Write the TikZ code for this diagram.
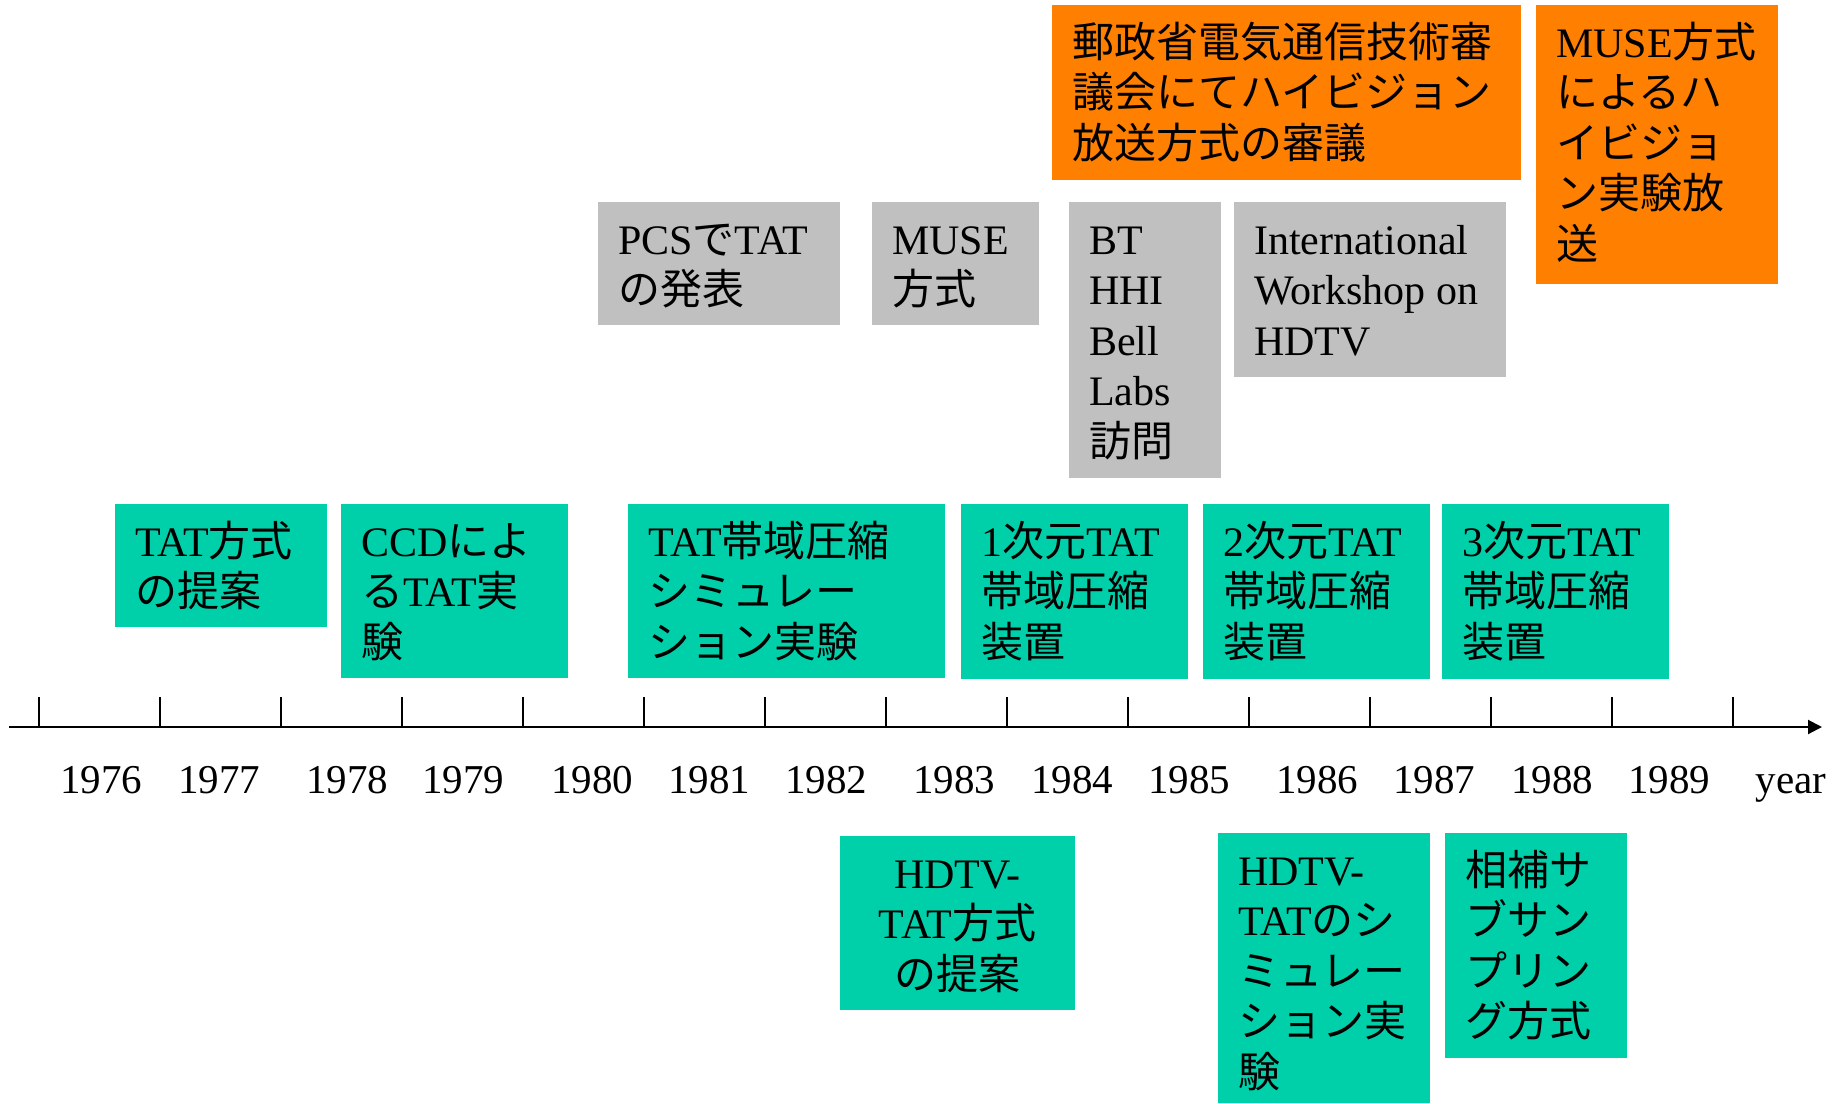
\documentclass[tikz,border=0pt]{standalone}
\usepackage{fontspec}
\setmainfont{Liberation Serif}
\newfontfamily\jp{Noto Sans CJK JP}
\usetikzlibrary{arrows.meta}
\definecolor{tealbox}{RGB}{0,208,170}
\definecolor{orangebox}{RGB}{255,128,0}
\definecolor{graybox}{RGB}{192,192,192}
\newcommand\J[1]{{\jp #1}}
\newcommand\bx[3]{\parbox[t][#2pt][t]{#1pt}{\raggedright\leftskip=20pt\relax\rule{0pt}{52pt}#3}}
\newcommand\bxc[3]{\parbox[t][#2pt][t]{#1pt}{\centering\rule{0pt}{52pt}#3}}
\begin{document}
\begin{tikzpicture}[x=1pt,y=-1pt,
  evt/.style={anchor=north west, inner sep=0pt, outer sep=0pt, fill=#1, font=\fontsize{42pt}{50.5pt}\selectfont},
  yr/.style={anchor=base, inner sep=0pt, font=\fontsize{41pt}{48pt}\selectfont},
  axisline/.style={line width=2pt, -{Triangle[length=14pt,width=14pt]}},
  tickline/.style={line width=1.3pt}]
\useasboundingbox (0,0) rectangle (1847,1103);
% teal boxes above axis
\node[evt=tealbox] (tatp) at (115,504) {\bx{212}{123}{TAT\J{方式}\\\J{の提案}}};
\node[evt=tealbox] (ccd) at (341,504) {\bx{227}{174}{CCD\J{によ}\\\J{る}TAT\J{実}\\\J{験}}};
\node[evt=tealbox] (sim) at (628,504) {\bx{317}{174}{TAT\J{帯域圧縮}\\\J{シミュレー}\\\J{ション実験}}};
\node[evt=tealbox] (d1) at (961,504) {\bx{227}{175}{1\J{次元}TAT\\\J{帯域圧縮}\\\J{装置}}};
\node[evt=tealbox] (d2) at (1203,504) {\bx{227}{175}{2\J{次元}TAT\\\J{帯域圧縮}\\\J{装置}}};
\node[evt=tealbox] (d3) at (1442,504) {\bx{227}{175}{3\J{次元}TAT\\\J{帯域圧縮}\\\J{装置}}};
% teal boxes below axis
\node[evt=tealbox] (hdp) at (840,836) {\bxc{235}{174}{HDTV-\\TAT\J{方式}\\\J{の提案}}};
\node[evt=tealbox] (hds) at (1218,833) {\bx{212}{270}{HDTV-\\TAT\J{のシ}\\\J{ミュレー}\\\J{ション実}\\\J{験}}};
\node[evt=tealbox] (sub) at (1445,833) {\bx{182}{225}{\J{相補サ}\\\J{ブサン}\\\J{プリン}\\\J{グ方式}}};
% gray boxes
\node[evt=graybox] (pcs) at (598,202) {\bx{242}{123}{PCS\J{で}TAT\\\J{の発表}}};
\node[evt=graybox] (muse) at (872,202) {\bx{167}{123}{MUSE\\\J{方式}}};
\node[evt=graybox] (bt) at (1069,202) {\bx{152}{276}{BT\\HHI\\Bell\\Labs\\\J{訪問}}};
\node[evt=graybox] (iw) at (1234,202) {\bx{272}{175}{International\\Workshop on\\HDTV}};
% orange boxes
\node[evt=orangebox] (mpt) at (1052,5) {\bx{469}{175}{\J{郵政省電気通信技術審}\\\J{議会にてハイビジョン}\\\J{放送方式の審議}}};
\node[evt=orangebox] (mexp) at (1536,5) {\bx{242}{279}{MUSE\J{方式}\\\J{によるハ}\\\J{イビジョ}\\\J{ン実験放}\\\J{送}}};
% axis
\coordinate (a0) at (9,727);
\coordinate (a1) at (1822,727);
\draw[axisline] (a0) -- (a1);
\foreach \i in {0,...,14} {
  \coordinate (tk\i) at ({39+121*\i},727);
  \draw[tickline] (tk\i) -- ++(0,-30);
}
% year labels
\foreach \yv/\xv in {1976/101,1977/219,1978/347,1979/463,1980/592,1981/709,1982/826,1983/954,1984/1072,1985/1189,1986/1317,1987/1434,1988/1552,1989/1669} {
  \node[yr] (y\yv) at (\xv,793) {\yv};
}
\node[yr] (yearlbl) at (1791,793) {year};
\end{tikzpicture}
\end{document}
